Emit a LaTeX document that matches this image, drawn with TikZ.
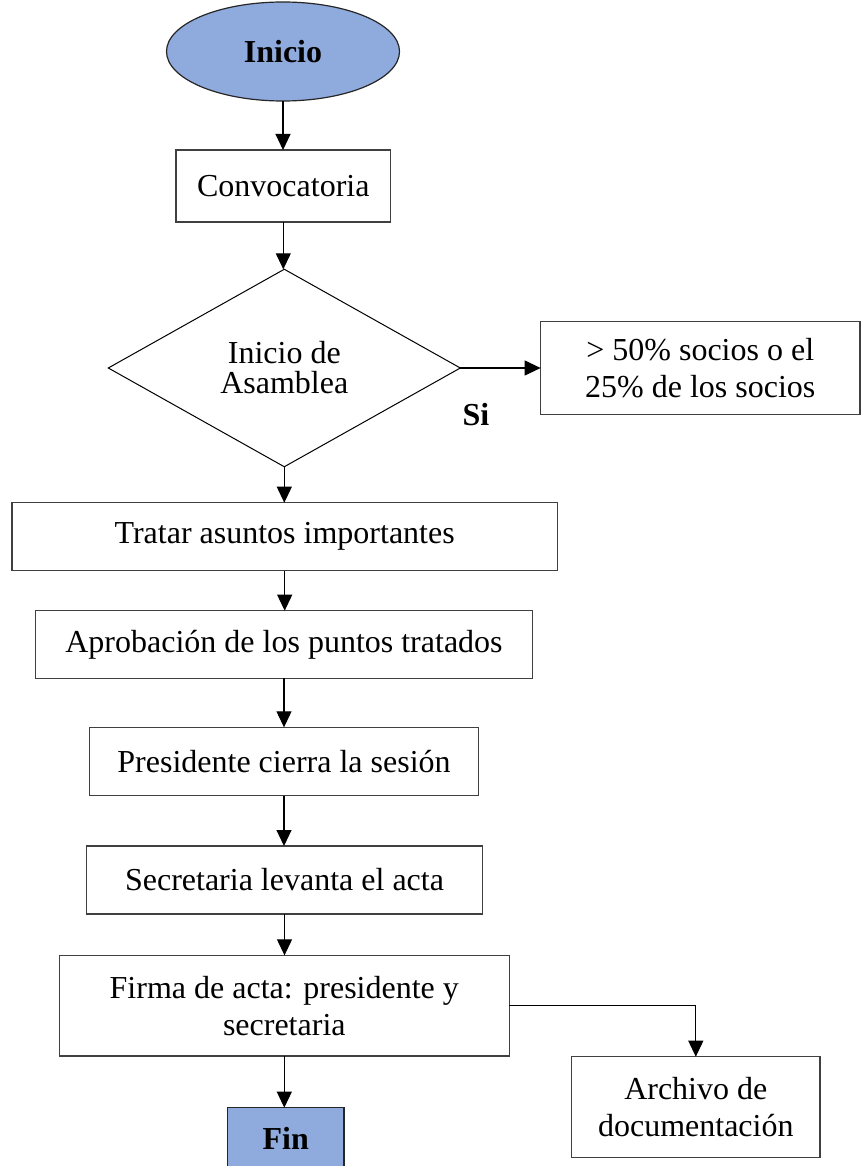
\documentclass[tikz,border=0pt]{standalone}
\usepackage{fontspec}
\setmainfont{Liberation Serif}
\usetikzlibrary{shapes.geometric,arrows.meta}
\definecolor{termfill}{HTML}{8FAADC}
\definecolor{edgegray}{HTML}{404040}
\begin{document}
\begin{tikzpicture}[x=1pt,y=-1pt,
  every node/.style={inner sep=0pt,outer sep=0pt,align=center,
    font=\fontsize{32}{37}\selectfont},
  stepbox/.style={draw=edgegray,line width=1.2pt,fill=white,rectangle},
  terminal/.style={draw=black!85,line width=1.2pt,fill=termfill,
    font=\fontsize{32}{37}\selectfont\bfseries},
  decision/.style={draw=black,line width=1pt,diamond,
    font=\fontsize{32}{30}\selectfont},
  arr/.style={draw=black,line width=1.1pt,-{Triangle[width=15pt,length=16pt]}}]
\useasboundingbox (0,0) rectangle (861,1166);

% terminals and process boxes
\node[terminal,ellipse,minimum width=233,minimum height=99] (inicio) at (283,51.5) {Inicio};
\node[stepbox,minimum width=214.7,minimum height=72] (conv) at (283.3,186) {Convocatoria};
\node[decision,minimum width=352,minimum height=197.5] (asam) at (284.3,368) {Inicio de\\Asamblea};
\node[stepbox,minimum width=319.3,minimum height=92.6] (quorum) at (700.3,368) {> 50\% socios o el\\25\% de los socios};
\node[font=\fontsize{32}{37}\selectfont\bfseries] (si) at (476,415) {Si};
\node[stepbox,minimum width=545.3,minimum height=68] (tratar) at (284.7,536.7) {Tratar asuntos importantes};
\node[stepbox,minimum width=496.6,minimum height=67.6] (aprob) at (284,644.5) {Aprobación de los puntos tratados};
\node[stepbox,minimum width=389.4,minimum height=68.4] (pres) at (284,761.5) {Presidente cierra la sesión};
\node[stepbox,minimum width=396.4,minimum height=68] (secr) at (284.5,880) {Secretaria levanta el acta};
\node[stepbox,minimum width=450,minimum height=100.7] (firma) at (284.3,1005.7) {Firma de acta: presidente y\\secretaria};
\node[terminal,rectangle,minimum width=116.3,minimum height=62.3] (fin) at (285.8,1138.8) {Fin};
\node[stepbox,minimum width=248.3,minimum height=101] (arch) at (695.8,1107.2) {Archivo de\\documentación};

% connectors
\draw[arr] (inicio.south) -- (inicio.south |- conv.north);
\draw[arr] (conv.south) -- (conv.south |- asam.north);
\draw[arr] (asam.east) -- (quorum.west);
\draw[arr] (asam.south) -- (asam.south |- tratar.north);
\draw[arr] (tratar.south) -- (tratar.south |- aprob.north);
\draw[arr] (aprob.south) -- (aprob.south |- pres.north);
\draw[arr] (pres.south) -- (pres.south |- secr.north);
\draw[arr] (secr.south) -- (secr.south |- firma.north);
\draw[arr] (firma.south) -- (firma.south |- fin.north);
\draw[arr] (firma.east) -| (arch.north);
\end{tikzpicture}
\end{document}
